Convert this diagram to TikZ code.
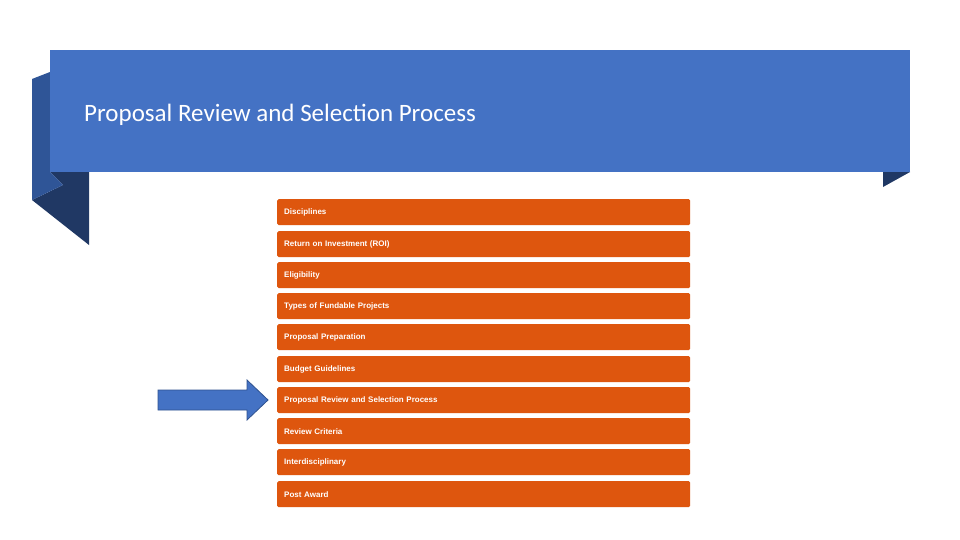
\documentclass[tikz,border=0pt]{standalone}
\usepackage{fontspec}
\setmainfont{Liberation Sans}
\newfontfamily\titlefont{Carlito}
\definecolor{rib}{HTML}{4472C4}
\definecolor{ribmid}{HTML}{2F5597}
\definecolor{ribdark}{HTML}{203864}
\definecolor{boxor}{HTML}{DE560E}
\definecolor{arrline}{HTML}{2F528F}
\begin{document}
\begin{tikzpicture}[x=1pt,y=-1pt,
  itembox/.style={fill=boxor,rounded corners=1.5pt,minimum width=413pt,minimum height=26pt,anchor=north west,text=white,font=\bfseries\fontsize{8}{9}\selectfont,align=left,text width=399pt,inner sep=0pt,inner xsep=7pt}]
\useasboundingbox (0,0) rectangle (960,540);
\fill[white] (0,0) rectangle (960,540);
% ribbon folds
\fill[ribdark] (50,172) -- (89,172) -- (89,245) -- (32,200) -- (63,185) -- cycle;
\fill[ribmid] (32,79) -- (50,72) -- (50,172) -- (63,185) -- (32,200) -- cycle;
\fill[ribdark] (883,172) -- (910,172) -- (883,187) -- cycle;
\fill[rib] (50,50) rectangle (910,172);
\node[anchor=base west,text=white,font=\titlefont\fontsize{25}{30}\selectfont,inner sep=0pt] (title) at (84,122) {Proposal Review and Selection Process};
% items
\foreach \i/\y/\t in {1/199/Disciplines,2/231/Return on Investment (ROI),3/262/Eligibility,4/293/Types of Fundable Projects,5/324/Proposal Preparation,6/356/Budget Guidelines,7/387/Proposal Review and Selection Process,8/418/Review Criteria,9/449/Interdisciplinary/Collaborative Proposals that Span CWSIS and RSP,10/481/Post Award/Follow-up}
  \node[itembox] (b\i) at (277,\y) {\t};
% arrow
\coordinate (tip) at (268,400);
\filldraw[fill=rib,draw=arrline,line width=0.8pt] (158,390) -- (247,390) -- (247,380) -- (tip) -- (247,420) -- (247,410) -- (158,410) -- cycle;
\end{tikzpicture}
\end{document}
